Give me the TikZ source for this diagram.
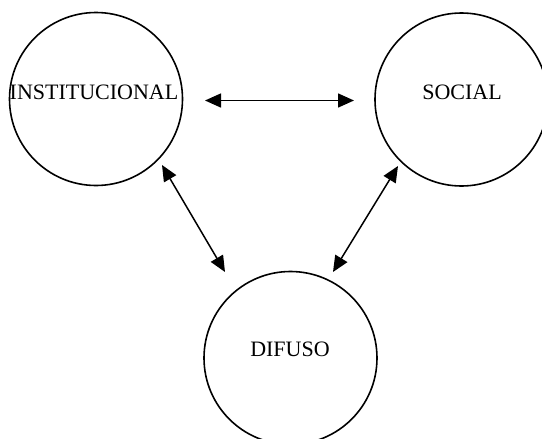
\documentclass[tikz,border=0pt]{standalone}
\usepackage{fontspec}
\setmainfont{Liberation Serif}
\usetikzlibrary{arrows.meta}
\begin{document}
\begin{tikzpicture}[x=1pt,y=-1pt,
  sphere/.style={circle,draw=black,line width=1.6pt,minimum size=173pt,inner sep=0pt},
  caption/.style={font=\fontsize{22}{24}\selectfont,inner sep=0pt,anchor=center},
  link/.style={line width=1.5pt,{Triangle[length=16pt,width=14pt]}-{Triangle[length=16pt,width=14pt]}}]
  \useasboundingbox (0,0) rectangle (542,439);
  % the three spheres
  \node[sphere] (inst) at (96,99) {};
  \node[sphere] (soc) at (461.5,99.5) {};
  \node[sphere] (dif) at (290.5,358) {};
  % their names, set a little above the centre
  \node[caption] (instl) at (94,92) {INSTITUCIONAL};
  \node[caption] (socl) at (462,92) {SOCIAL};
  \node[caption] (difl) at (290,349.5) {DIFUSO};
  % arrow ends
  \coordinate (a1) at (205,100.5);
  \coordinate (a2) at (354,100.5);
  \coordinate (b1) at (162,165);
  \coordinate (b2) at (225,272);
  \coordinate (c1) at (398,166);
  \coordinate (c2) at (333,272);
  \draw[link] (a1) -- (a2);
  \draw[link] (b1) -- (b2);
  \draw[link] (c1) -- (c2);
\end{tikzpicture}
\end{document}
